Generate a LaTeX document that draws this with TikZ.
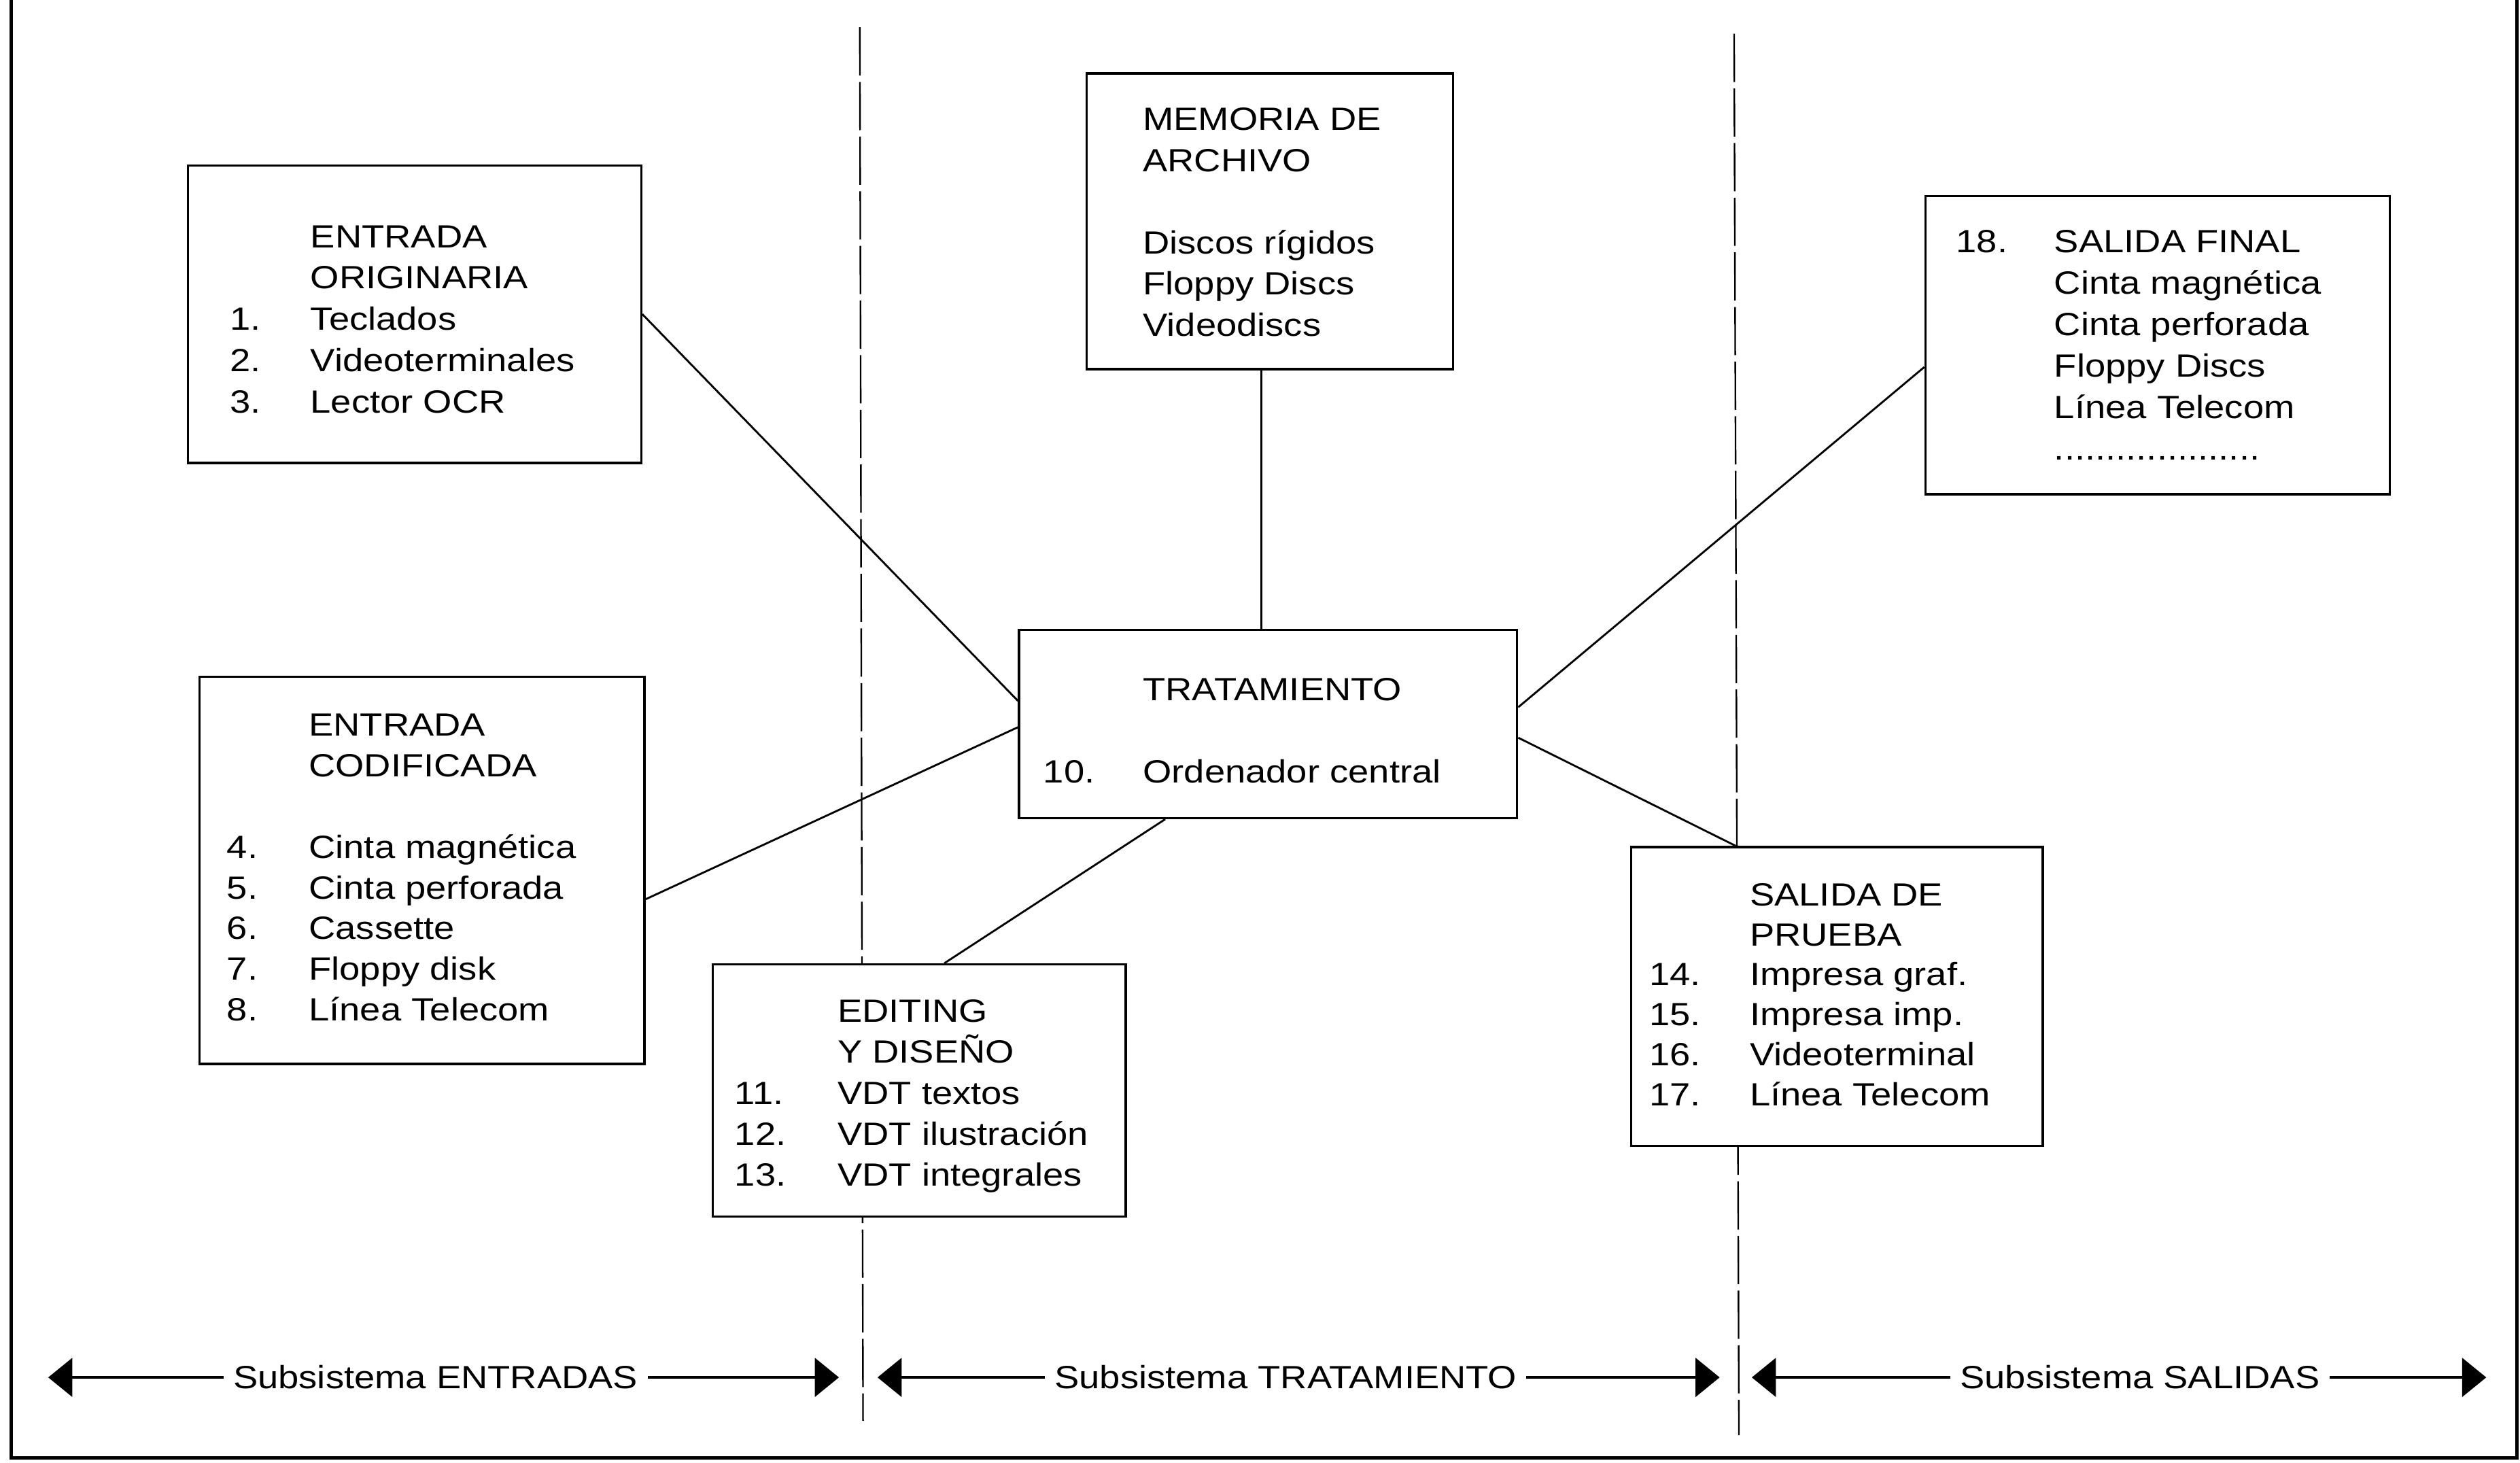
\documentclass[tikz,border=0pt]{standalone}
\usepackage{fontspec}
\setmainfont{Liberation Sans}[FakeStretch=1.15]
\usetikzlibrary{arrows.meta,calc}
\begin{document}
\begin{tikzpicture}[x=1pt,y=-1pt,
  box/.style={draw, line width=1.4pt, fill=white, inner sep=0pt, rectangle},
  link/.style={line width=1.2pt},
  divider/.style={line width=1pt, dash pattern=on 30pt off 4pt},
  outerline/.style={line width=2pt},
  sysarrow/.style={line width=1.8pt, {Triangle[length=15pt,width=24pt]}-{Triangle[length=15pt,width=24pt]}},
  txt/.style={anchor=base west, inner sep=0pt, font=\fontsize{20}{#1}\selectfont},
  lab/.style={anchor=base, fill=white, inner xsep=6pt, inner ysep=3pt, font=\fontsize{20}{24}\selectfont}]
\useasboundingbox (0,0) rectangle (1568,910);

% outer frame (open at top)
\draw[outerline] (7,0) -- (7,907) -- (1566,907) -- (1566,0);

% dashed dividers
\coordinate (d1t) at (535,17);  \coordinate (d1b) at (537,884);
\coordinate (d2t) at (1079,21); \coordinate (d2b) at (1082,893);
\draw[divider] (d1t) -- (d1b);
\draw[divider] (d2t) -- (d2b);

% boxes
\node[box, minimum width=282pt, minimum height=185pt] (b1) at (258,195.5) {};
\node[box, minimum width=277pt, minimum height=241pt] (b2) at (262.5,541.5) {};
\node[box, minimum width=228pt, minimum height=184pt] (mem) at (790,137.7) {};
\node[box, minimum width=310pt, minimum height=117pt] (trat) at (789,450.5) {};
\node[box, minimum width=257pt, minimum height=157pt] (edit) at (572,678.5) {};
\node[box, minimum width=256pt, minimum height=186pt] (prueba) at (1143,620) {};
\node[box, minimum width=289pt, minimum height=185.5pt] (final) at (1342.5,214.7) {};

% texts
\node[txt=25.7] (b1t) at (143,154) {\begin{tabular}[t]{@{}p{50pt}@{}l@{}}
 & ENTRADA\\ & ORIGINARIA\\ 1. & Teclados\\ 2. & Videoterminales\\ 3. & Lector OCR\end{tabular}};
\node[txt=25.3] (b2t) at (141,458) {\begin{tabular}[t]{@{}p{51pt}@{}l@{}}
 & ENTRADA\\ & CODIFICADA\\ & \\ 4. & Cinta magnética\\ 5. & Cinta perforada\\ 6. & Cassette\\ 7. & Floppy disk\\ 8. & Línea Telecom\end{tabular}};
\node[txt=25.6] (memt) at (711,81) {\begin{tabular}[t]{@{}l@{}}
 MEMORIA DE\\ ARCHIVO\\ \\ Discos rígidos\\ Floppy Discs\\ Videodiscs\end{tabular}};
\node[txt=25.5] (tratt) at (649,436) {\begin{tabular}[t]{@{}p{62pt}@{}l@{}}
 & TRATAMIENTO\\ & \\ 10. & Ordenador central\end{tabular}};
\node[txt=25.5] (editt) at (457,636) {\begin{tabular}[t]{@{}p{64pt}@{}l@{}}
 & EDITING\\ & Y DISEÑO\\ 11. & VDT textos\\ 12. & VDT ilustración\\ 13. & VDT integrales\end{tabular}};
\node[txt=24.9] (pruebat) at (1026,563.5) {\begin{tabular}[t]{@{}p{62.6pt}@{}l@{}}
 & SALIDA DE\\ & PRUEBA\\ 14. & Impresa graf.\\ 15. & Impresa imp.\\ 16. & Videoterminal\\ 17. & Línea Telecom\end{tabular}};
\node[txt=25.8] (finalt) at (1217,157) {\begin{tabular}[t]{@{}p{61pt}@{}l@{}}
 18. & SALIDA FINAL\\ & Cinta magnética\\ & Cinta perforada\\ & Floppy Discs\\ & Línea Telecom\\ & ....................\end{tabular}};

% connectors
\draw[link] (b1.east) -- ([yshift=14.5pt]trat.west);
\draw[link] ([yshift=-18pt]b2.east) -- ([yshift=-2pt]trat.west);
\draw[link] ([xshift=-5pt]mem.south) -- ([xshift=-4pt]trat.north);
\draw[link] ([xshift=15.6pt]edit.north) -- ([xshift=-64pt]trat.south);
\draw[link] ([yshift=-13.7pt]final.west) -- ([yshift=10.5pt]trat.east);
\draw[link] ([xshift=-63pt]prueba.north) -- ([yshift=-8.5pt]trat.east);

% subsystem arrows
\coordinate (a1l) at (30,857);   \coordinate (a1r) at (522,857);
\coordinate (a2l) at (546,857);  \coordinate (a2r) at (1070,857);
\coordinate (a3l) at (1090,857); \coordinate (a3r) at (1547,857);
\draw[sysarrow] (a1l) -- (a1r);
\draw[sysarrow] (a2l) -- (a2r);
\draw[sysarrow] (a3l) -- (a3r);
\node[lab] (s1) at (271,864) {Subsistema ENTRADAS};
\node[lab] (s2) at (800,864) {Subsistema TRATAMIENTO};
\node[lab] (s3) at (1331.5,864) {Subsistema SALIDAS};
\end{tikzpicture}
\end{document}
